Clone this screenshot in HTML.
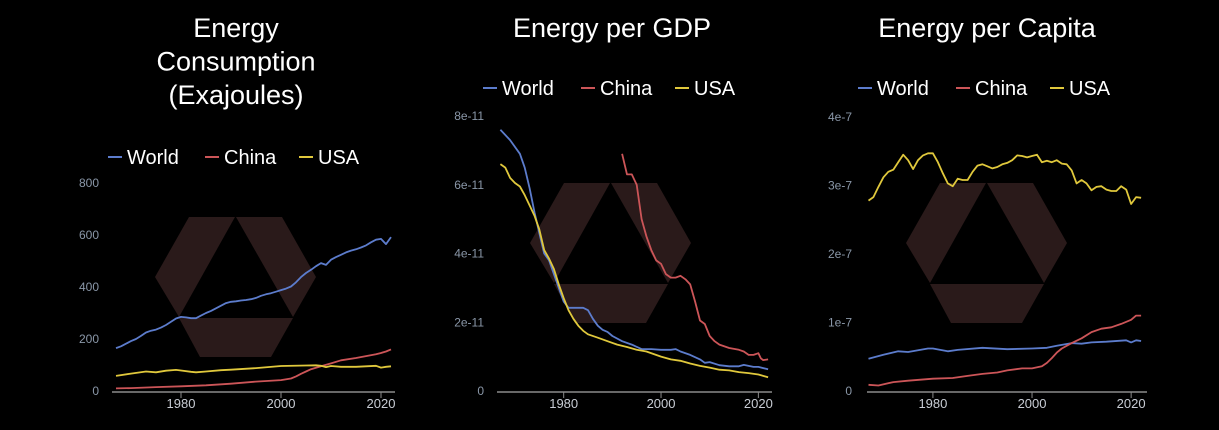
<!DOCTYPE html>
<html><head><meta charset="utf-8"><style>
html,body{margin:0;padding:0;background:#000;width:1219px;height:430px;overflow:hidden}
svg{display:block;font-family:"Liberation Sans",sans-serif}
</style></head><body>
<svg id="root" width="1219" height="430" viewBox="0 0 1219 430"></svg>
<script>
// ---- Chart 1: Energy Consumption (EJ)
const c1Years = [1967,1968,1969,1970,1971,1972,1973,1974,1975,1976,1977,1978,1979,1980,1981,1982,1983,1984,1985,1986,1987,1988,1989,1990,1991,1992,1993,1994,1995,1996,1997,1998,1999,2000,2001,2002,2003,2004,2005,2006,2007,2008,2009,2010,2011,2012,2013,2014,2015,2016,2017,2018,2019,2020,2021,2022];
const c1World = [165,172,182,192,200,212,225,232,236,244,254,266,279,285,283,280,280,290,300,308,318,328,338,343,345,348,350,353,358,366,372,376,382,388,394,402,418,438,454,466,480,492,485,505,515,524,533,540,545,552,560,572,582,585,565,592];
const c1ChinaYears = [1967,1970,1975,1980,1985,1990,1995,2000,2002,2003,2004,2005,2006,2008,2010,2012,2015,2019,2020,2021,2022];
const c1China = [10,11,15,18,22,28,36,42,48,56,66,75,84,95,106,118,127,141,146,152,160];
const c1UsaYears = [1967,1970,1973,1975,1977,1979,1980,1982,1983,1985,1988,1990,1995,2000,2005,2007,2008,2009,2010,2012,2015,2019,2020,2021,2022];
const c1Usa = [58,67,75,72,78,81,79,74,72,75,80,82,88,96,98,99,97,92,96,93,93,97,90,93,95];
const c1Ticks = [0,200,400,600,800];
const c1TickLabels = ["0","200","400","600","800"];

// ---- Chart 2: Energy per GDP (units of 1e-11)
const c2WorldYears = [1967,1969,1971,1972,1973,1974,1975,1976,1977,1978,1979,1980,1981,1983,1984,1985,1986,1987,1988,1989,1990,1992,1994,1996,1998,2000,2002,2003,2004,2006,2008,2009,2010,2012,2014,2016,2017,2019,2020,2022];
const c2World = [7.6,7.3,6.9,6.5,5.9,5.2,4.6,4.0,3.8,3.4,3.0,2.6,2.42,2.42,2.42,2.35,2.1,1.9,1.78,1.72,1.6,1.45,1.35,1.22,1.22,1.2,1.2,1.22,1.15,1.05,0.92,0.82,0.84,0.75,0.72,0.72,0.76,0.7,0.7,0.63];
const c2ChinaYears = [1992,1993,1994,1995,1996,1997,1998,1999,2000,2001,2002,2003,2004,2005,2006,2007,2008,2009,2010,2011,2012,2014,2016,2017,2018,2019,2020,2020.5,2021,2022];
const c2China = [6.9,6.3,6.3,6.0,5.0,4.5,4.1,3.8,3.7,3.4,3.3,3.3,3.35,3.25,3.1,2.6,2.05,1.95,1.6,1.45,1.35,1.25,1.2,1.15,1.05,1.05,1.1,0.95,0.9,0.92];
const c2UsaYears = [1967,1968,1969,1970,1971,1972,1973,1974,1975,1976,1977,1978,1979,1980,1981,1982,1983,1984,1985,1987,1989,1991,1993,1995,1997,2000,2002,2004,2006,2008,2010,2012,2014,2016,2018,2020,2022];
const c2Usa = [6.6,6.5,6.2,6.05,5.95,5.7,5.4,5.1,4.7,4.1,3.85,3.55,3.1,2.7,2.35,2.1,1.9,1.75,1.65,1.55,1.45,1.35,1.28,1.2,1.15,1.0,0.92,0.88,0.8,0.73,0.68,0.62,0.6,0.55,0.52,0.48,0.4];
const c2Ticks = [0,2,4,6,8];
const c2TickLabels = ["0","2e-11","4e-11","6e-11","8e-11"];

// ---- Chart 3: Energy per Capita (units of 1e-7)
const c3UsaYears = [1967,1968,1969,1970,1971,1972,1973,1974,1975,1976,1977,1978,1979,1980,1981,1982,1983,1984,1985,1986,1987,1988,1989,1990,1991,1992,1993,1994,1995,1996,1997,1998,1999,2000,2001,2002,2003,2004,2005,2006,2007,2008,2009,2010,2011,2012,2013,2014,2015,2016,2017,2018,2019,2020,2021,2022];
const c3Usa = [2.78,2.83,2.98,3.12,3.2,3.23,3.34,3.45,3.37,3.24,3.37,3.44,3.47,3.47,3.34,3.18,3.03,2.99,3.1,3.08,3.08,3.2,3.29,3.31,3.28,3.25,3.27,3.31,3.33,3.37,3.44,3.43,3.41,3.43,3.45,3.34,3.36,3.34,3.37,3.32,3.31,3.22,3.03,3.08,3.03,2.93,2.98,2.99,2.94,2.92,2.92,2.99,2.94,2.73,2.83,2.82];
const c3WorldYears = [1967,1970,1973,1975,1979,1980,1983,1985,1990,1995,2000,2003,2005,2008,2010,2012,2015,2019,2020,2021,2022];
const c3World = [0.47,0.53,0.58,0.57,0.62,0.62,0.58,0.6,0.63,0.61,0.62,0.63,0.66,0.7,0.69,0.71,0.72,0.74,0.71,0.74,0.73];
const c3ChinaYears = [1967,1969,1972,1975,1980,1984,1987,1990,1993,1995,1998,2000,2002,2003,2004,2005,2006,2008,2010,2012,2014,2016,2018,2020,2021,2022];
const c3China = [0.09,0.08,0.13,0.15,0.18,0.19,0.22,0.25,0.27,0.3,0.33,0.33,0.36,0.41,0.48,0.56,0.62,0.7,0.77,0.86,0.91,0.93,0.98,1.04,1.1,1.1];
const c3Ticks = [0,1,2,3,4];
const c3TickLabels = ["0","1e-7","2e-7","3e-7","4e-7"];

const xTickYears = [1980,2000,2020];
const seriesNames = ["World","China","USA"];

const NS = "http://www.w3.org/2000/svg";
const root = document.getElementById("root");
const COLORS = {World:"#5c7ccc",China:"#cc5558",USA:"#e0c83c"};
function mk(tag, attrs, parent){const e=document.createElementNS(NS,tag);for(const k in attrs)e.setAttribute(k,attrs[k]);(parent||root).appendChild(e);return e;}

function buildChart(cfg){
  const g = mk("g",{});
  
  
  const xs = y => cfg.x0 + (y - cfg.y0yr) * (cfg.x1 - cfg.x0) / (cfg.y1yr - cfg.y0yr);
  const ys = v => cfg.base - v * (cfg.base - cfg.top) / cfg.vmax;
  // logo watermark
  const logo = mk("g",{transform:`translate(${cfg.lx},${cfg.ly})`,fill:"#2a1a1a"},g);
  
  
  mk("polygon",{points:"34,0 80,0 24,100 0,60"},logo);
  mk("polygon",{points:"81,0 127,0 161,60 138,100"},logo);
  mk("polygon",{points:"24,101 138,101 116,140 45,140"},logo);
  // title
  cfg.title.forEach((t,i)=>{
    const tx = mk("text",{x:cfg.cx,y:cfg.titleY+i*33.5,"text-anchor":"middle",fill:"#fff","font-size":"27"},g);
    tx.textContent=t;
    
    
  });
  // legend
  seriesNames.forEach((n,i)=>{
    const lx = cfg.legX[i];
    const lg = mk("g",{},g);
    
    
    mk("line",{x1:lx,x2:lx+14,y1:cfg.legY-7,y2:cfg.legY-7,stroke:COLORS[n],"stroke-width":2},lg);
    const t = mk("text",{x:lx+19,y:cfg.legY,fill:"#fff","font-size":"20"},lg);
    t.textContent=n;
  });
  // y ticks
  cfg.ticks.forEach((v,i)=>{
    const t = mk("text",{x:cfg.yLabX,y:ys(v)+4,"text-anchor":"end",fill:"#8a97a8","font-size":"12"},g);
    t.textContent=cfg.tickLabels[i];
    
    
  });
  // x axis
  const ax = mk("line",{x1:cfg.x0,x2:cfg.x1,y1:cfg.base+1,y2:cfg.base+1,stroke:"#8a8a8a","stroke-width":1.5},g);
  
  
  xTickYears.forEach(yr=>{
    const X = xs(yr);
    mk("line",{x1:X,x2:X,y1:cfg.base+1,y2:cfg.base+7,stroke:"#8a8a8a","stroke-width":1},g);
    const t = mk("text",{x:X,y:cfg.base+17,"text-anchor":"middle",fill:"#c8ccd4","font-size":"13"},g);
    t.textContent=yr;
    
    
  });
  // series
  cfg.series.forEach(s=>{
    const d = s.years.map((yr,i)=>(i?"L":"M")+xs(yr).toFixed(1)+","+ys(s.vals[i]).toFixed(1)).join("");
    const p = mk("path",{d:d,fill:"none",stroke:COLORS[s.n],"stroke-width":1.8,"stroke-linejoin":"round"},g);
    
    
  });
}

buildChart({name:"energy-consumption-chart",cx:236,titleY:37,title:["Energy","Consumption","(Exajoules)"],
  legY:164,legX:[108,205,299],x0:112,x1:395,y0yr:1966.2,y1yr:2022.8,base:391,top:183,vmax:800,
  ticks:c1Ticks,tickLabels:c1TickLabels,yLabX:99,lx:155,ly:217,
  series:[{n:"World",years:c1Years,vals:c1World},{n:"China",years:c1ChinaYears,vals:c1China},{n:"USA",years:c1UsaYears,vals:c1Usa}]});
buildChart({name:"energy-per-gdp-chart",cx:612,titleY:37,title:["Energy per GDP"],
  legY:95,legX:[483,581,675],x0:497,x1:772,y0yr:1966.3,y1yr:2022.8,base:391,top:116,vmax:8,
  ticks:c2Ticks,tickLabels:c2TickLabels,yLabX:484,lx:530,ly:183,
  series:[{n:"World",years:c2WorldYears,vals:c2World},{n:"China",years:c2ChinaYears,vals:c2China},{n:"USA",years:c2UsaYears,vals:c2Usa}]});
buildChart({name:"energy-per-capita-chart",cx:987,titleY:37,title:["Energy per Capita"],
  legY:95,legX:[858,956,1050],x0:867,x1:1147,y0yr:1966.7,y1yr:2023.2,base:391,top:117,vmax:4,
  ticks:c3Ticks,tickLabels:c3TickLabels,yLabX:852,lx:906,ly:183,
  series:[{n:"World",years:c3WorldYears,vals:c3World},{n:"China",years:c3ChinaYears,vals:c3China},{n:"USA",years:c3UsaYears,vals:c3Usa}]});
</script>
</body></html>
